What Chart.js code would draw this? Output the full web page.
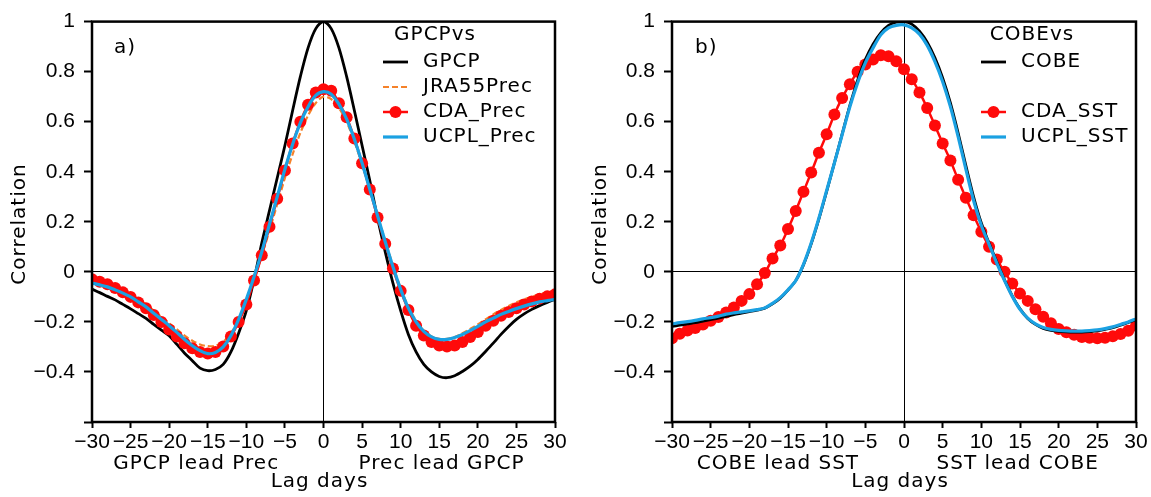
<!DOCTYPE html>
<html>
<head>
<meta charset="utf-8">
<script src="https://cdn.jsdelivr.net/npm/chart.js@4.4.1/dist/chart.umd.min.js"></script>
<style>
  html, body { margin: 0; padding: 0; background: #fff; }
  #wrap { position: relative; width: 1151px; height: 497px; }
  #left { position: absolute; left: 0; top: 0; }
  #right { position: absolute; left: 580px; top: 0; }
</style>
</head>
<body>
<div id="wrap">
  <canvas id="left" width="580" height="497"></canvas>
  <canvas id="right" width="571" height="497"></canvas>
</div>
<script>
// lag days (x values)
const lags = [-30,-29,-28,-27,-26,-25,-24,-23,-22,-21,-20,-19,-18,-17,-16,-15,-14,-13,-12,-11,-10,-9,-8,-7,-6,-5,-4,-3,-2,-1,
  0,1,2,3,4,5,6,7,8,9,10,11,12,13,14,15,16,17,18,19,20,21,22,23,24,25,26,27,28,29,30];

// panel a) GPCP vs precipitation
const gpcp = [-0.069,-0.083,-0.098,-0.112,-0.13,-0.148,-0.167,-0.186,-0.21,-0.233,-0.255,-0.29,-0.325,-0.355,-0.385,-0.395,-0.39,-0.37,-0.32,-0.245,
  -0.155,-0.03,0.115,0.245,0.375,0.505,0.645,0.78,0.895,0.972,
  1.0,0.972,0.895,0.78,0.645,0.505,0.365,0.215,0.08,-0.045,-0.155,-0.25,-0.32,-0.37,-0.4,-0.418,-0.423,-0.415,-0.398,-0.377,
  -0.35,-0.318,-0.285,-0.25,-0.218,-0.19,-0.168,-0.15,-0.135,-0.122,-0.11];
const jra55Prec = [-0.035,-0.04,-0.05,-0.06,-0.075,-0.09,-0.11,-0.13,-0.155,-0.18,-0.205,-0.23,-0.255,-0.275,-0.29,-0.297,-0.295,-0.28,-0.245,-0.19,
  -0.115,-0.03,0.065,0.165,0.27,0.375,0.47,0.555,0.625,0.675,
  0.7,0.69,0.655,0.6,0.52,0.43,0.33,0.225,0.125,0.025,-0.065,-0.14,-0.195,-0.235,-0.258,-0.268,-0.268,-0.26,-0.245,-0.228,
  -0.21,-0.19,-0.17,-0.152,-0.136,-0.122,-0.11,-0.1,-0.09,-0.082,-0.075];
const cdaPrec = [-0.03,-0.04,-0.05,-0.065,-0.082,-0.1,-0.122,-0.145,-0.172,-0.2,-0.23,-0.258,-0.285,-0.305,-0.32,-0.326,-0.32,-0.298,-0.258,-0.2,
  -0.13,-0.035,0.066,0.18,0.292,0.405,0.513,0.6,0.668,0.717,
  0.73,0.724,0.674,0.618,0.533,0.434,0.329,0.217,0.112,0.013,-0.076,-0.152,-0.215,-0.254,-0.28,-0.294,-0.298,-0.294,-0.28,-0.26,
  -0.24,-0.215,-0.195,-0.175,-0.16,-0.145,-0.13,-0.118,-0.107,-0.098,-0.09];
const ucplPrec = [-0.045,-0.052,-0.06,-0.072,-0.085,-0.1,-0.12,-0.14,-0.165,-0.19,-0.215,-0.242,-0.27,-0.295,-0.315,-0.327,-0.322,-0.3,-0.255,-0.19,
  -0.11,-0.02,0.08,0.19,0.3,0.41,0.51,0.595,0.66,0.705,
  0.72,0.71,0.67,0.61,0.53,0.435,0.33,0.225,0.12,0.02,-0.07,-0.145,-0.2,-0.238,-0.26,-0.27,-0.27,-0.262,-0.25,-0.235,
  -0.218,-0.2,-0.185,-0.17,-0.158,-0.147,-0.137,-0.128,-0.12,-0.115,-0.11];

// panel b) COBE vs SST
const cobe = [-0.218,-0.213,-0.208,-0.203,-0.197,-0.191,-0.185,-0.178,-0.171,-0.165,-0.159,-0.153,-0.145,-0.128,-0.105,-0.073,-0.035,0.028,0.112,0.212,
  0.322,0.435,0.55,0.665,0.765,0.848,0.91,0.955,0.985,0.998,
  1.0,0.99,0.962,0.918,0.855,0.775,0.675,0.555,0.425,0.3,0.195,0.115,0.04,-0.032,-0.096,-0.148,-0.186,-0.21,-0.226,-0.234,
  -0.238,-0.24,-0.241,-0.241,-0.239,-0.236,-0.23,-0.223,-0.213,-0.202,-0.19];
const cdaSst = [-0.265,-0.247,-0.234,-0.224,-0.21,-0.195,-0.18,-0.162,-0.142,-0.116,-0.089,-0.05,-0.005,0.053,0.105,0.171,0.243,0.32,0.397,0.476,
  0.55,0.629,0.695,0.75,0.8,0.829,0.849,0.866,0.862,0.842,
  0.81,0.77,0.717,0.655,0.585,0.513,0.445,0.368,0.296,0.226,0.16,0.1,0.049,0.0,-0.047,-0.087,-0.116,-0.149,-0.179,-0.205,
  -0.228,-0.241,-0.251,-0.26,-0.263,-0.265,-0.263,-0.257,-0.248,-0.235,-0.215];
const ucplSst = [-0.208,-0.203,-0.199,-0.194,-0.188,-0.183,-0.177,-0.169,-0.164,-0.16,-0.156,-0.151,-0.144,-0.126,-0.103,-0.072,-0.035,0.03,0.115,0.215,
  0.325,0.435,0.548,0.66,0.755,0.835,0.895,0.947,0.975,0.985,
  0.987,0.975,0.95,0.905,0.84,0.76,0.66,0.54,0.41,0.285,0.185,0.11,0.035,-0.035,-0.098,-0.15,-0.185,-0.208,-0.222,-0.23,
  -0.234,-0.236,-0.237,-0.237,-0.235,-0.232,-0.227,-0.22,-0.21,-0.2,-0.188];

const TICKFONT = "'Liberation Sans', Arial, sans-serif";
const TEXTFONT = "'DejaVu Sans', sans-serif";
Chart.defaults.font.family = TICKFONT;
Chart.defaults.color = '#000';

function pts(vals) {
  return lags.map((x, i) => ({ x: x, y: vals[i] }));
}

function minus(s) {
  return s.replace('-', '\u2212');
}

// frame, legend, panel tag, axis titles and lead labels
const decor = {
  id: 'decor',
  afterDraw(chart) {
    const o = chart.options.plugins.decor;
    const ctx = chart.ctx;
    const a = chart.chartArea;
    const xs = chart.scales.x;
    ctx.save();
    ctx.strokeStyle = '#000';
    ctx.lineWidth = 2.5;
    ctx.strokeRect(a.left, a.top, a.right - a.left, a.bottom - a.top);

    ctx.fillStyle = '#000';
    ctx.textBaseline = 'middle';
    ctx.font = '20px ' + TEXTFONT;
    ctx.letterSpacing = '1px';
    ctx.textAlign = 'left';
    ctx.fillText(o.tag, o.tagX, 48);

    ctx.textAlign = 'center';
    ctx.fillText(o.title, o.titleX, 35);

    chart.data.datasets.forEach(ds => {
      const y = 62 + ds.row * 25;
      ctx.save();
      ctx.strokeStyle = ds.borderColor;
      ctx.lineWidth = ds.borderWidth;
      ctx.setLineDash(ds.borderDash || []);
      ctx.beginPath();
      ctx.moveTo(o.legX, y);
      ctx.lineTo(o.legX + 25, y);
      ctx.stroke();
      if (ds.pointRadius > 0) {
        ctx.fillStyle = ds.pointBackgroundColor;
        ctx.beginPath();
        ctx.arc(o.legX + 12.5, y, ds.pointRadius, 0, Math.PI * 2);
        ctx.fill();
      }
      ctx.restore();
      ctx.textAlign = 'left';
      ctx.fillText(ds.label, o.legX + 40, y);
    });

    ctx.textAlign = 'center';
    ctx.fillText(o.leadL[0], xs.getPixelForValue(o.leadL[1]), 464);
    ctx.fillText(o.leadR[0], xs.getPixelForValue(o.leadR[1]), 464);
    ctx.fillText('Lag days', xs.getPixelForValue(0) - 4, 482);

    ctx.translate(o.yTitleX, 224);
    ctx.rotate(-Math.PI / 2);
    ctx.fillText('Correlation', 0, 0);
    ctx.restore();
  }
};

function makeChart(id, datasets, o) {
  return new Chart(document.getElementById(id), {
    type: 'line',
    data: { datasets: datasets },
    plugins: [decor],
    options: {
      responsive: false,
      animation: false,
      layout: { padding: { top: 18, right: o.padRight, left: 0, bottom: 0 } },
      plugins: {
        legend: { display: false },
        tooltip: { enabled: false },
        decor: o
      },
      elements: { point: { radius: 0 } },
      scales: {
        x: {
          type: 'linear',
          min: -30, max: 30,
          border: { display: false },
          grid: {
            drawTicks: true, tickLength: 6, tickColor: '#000', tickWidth: 2,
            color: c => (c.tick && c.tick.value === 0) ? '#000' : 'rgba(0,0,0,0)',
            lineWidth: 1
          },
          ticks: {
            stepSize: 5, autoSkip: false, maxRotation: 0, padding: 2,
            font: { size: 21 },
            callback: v => minus(String(v))
          },
          title: { display: false },
          afterFit: s => { s.height = 75; }
        },
        y: {
          min: -0.6, max: 1,
          border: { display: false },
          grid: {
            drawTicks: true, tickLength: 8, tickColor: '#000', tickWidth: 2,
            color: c => (c.tick && Math.abs(c.tick.value) < 1e-9) ? '#000' : 'rgba(0,0,0,0)',
            lineWidth: 1
          },
          ticks: {
            stepSize: 0.2, padding: 9,
            font: { size: 21 },
            callback: v => {
              const r = Math.round(v * 10) / 10;
              if (r === -0.6) return '';
              if (r === 0) return '0';
              if (r === 1) return '1';
              return minus(r.toFixed(1));
            }
          },
          title: { display: false },
          afterFit: s => { s.width = 92; }
        }
      }
    }
  });
}

makeChart('left', [
  { label: 'UCPL_Prec', data: pts(ucplPrec), borderColor: '#1ba1e2', borderWidth: 3.2, tension: 0.3, order: 0, row: 3, pointRadius: 0 },
  { label: 'CDA_Prec', data: pts(cdaPrec), borderColor: '#ff0a0a', borderWidth: 2.5, tension: 0.3, order: 1, row: 2,
    pointRadius: 6, pointBackgroundColor: '#ff0a0a', pointBorderColor: '#ff0a0a', pointBorderWidth: 0 },
  { label: 'JRA55Prec', data: pts(jra55Prec), borderColor: '#f5822a', borderWidth: 2.2, borderDash: [6, 3], tension: 0.3, order: 2, row: 1, pointRadius: 0 },
  { label: 'GPCP', data: pts(gpcp), borderColor: '#000000', borderWidth: 2.8, tension: 0.3, order: 3, row: 0, pointRadius: 0 }
], { padRight: 25, tag: 'a)', tagX: 114, title: 'GPCPvs', titleX: 435, legX: 383, yTitleX: 20,
     leadL: ['GPCP lead Prec', -16.5], leadR: ['Prec lead GPCP', 15.3] });

makeChart('right', [
  { label: 'UCPL_SST', data: pts(ucplSst), borderColor: '#1ba1e2', borderWidth: 3.2, tension: 0.3, order: 0, row: 3, pointRadius: 0 },
  { label: 'COBE', data: pts(cobe), borderColor: '#000000', borderWidth: 2.8, tension: 0.3, order: 1, row: 0, pointRadius: 0 },
  { label: 'CDA_SST', data: pts(cdaSst), borderColor: '#ff0a0a', borderWidth: 2.5, tension: 0.3, order: 2, row: 2,
    pointRadius: 6, pointBackgroundColor: '#ff0a0a', pointBorderColor: '#ff0a0a', pointBorderWidth: 0 }
], { padRight: 15, tag: 'b)', tagX: 115, title: 'COBEvs', titleX: 452, legX: 401, yTitleX: 21,
     leadL: ['COBE lead SST', -16.3], leadR: ['SST lead COBE', 14.7] });
</script>
</body>
</html>
